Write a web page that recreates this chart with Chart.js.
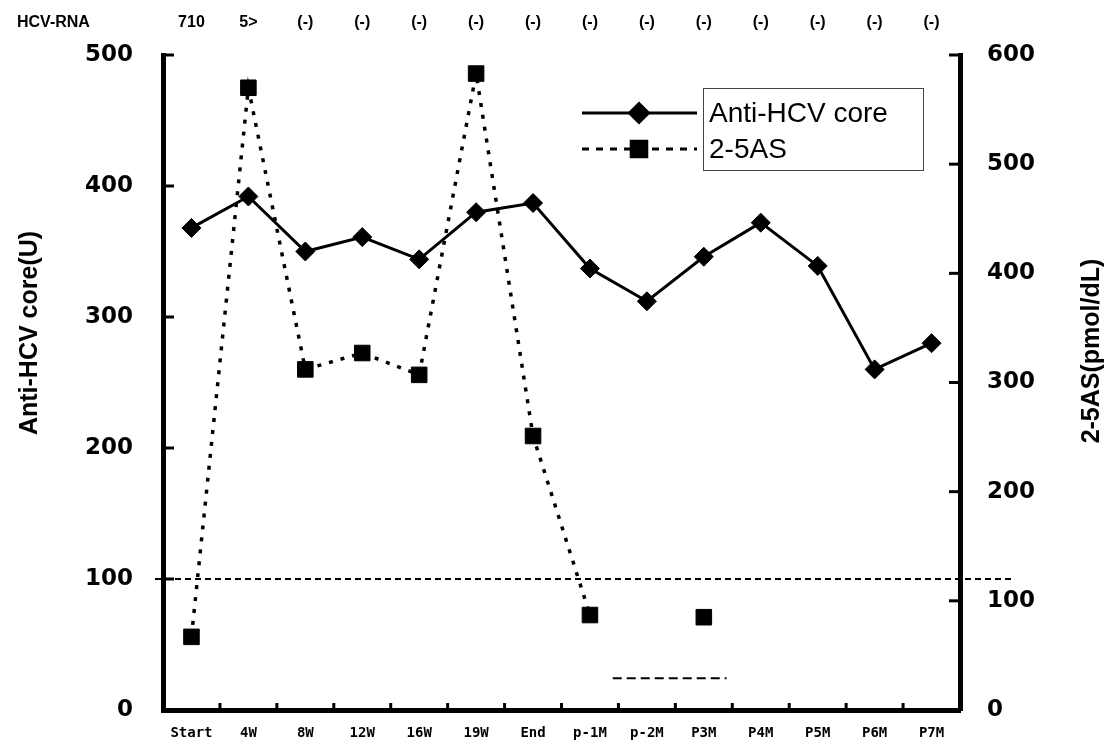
<!DOCTYPE html>
<html>
<head>
<meta charset="utf-8">
<script src="https://cdn.jsdelivr.net/npm/chart.js@4.4.0/dist/chart.umd.min.js"></script>
<style>
  html, body { margin: 0; padding: 0; background: #fff; }
  #wrap { width: 1111px; height: 744px; }
</style>
</head>
<body>
<div id="wrap"><canvas id="chart" width="1111" height="744"></canvas></div>
<script>
// data
const labels = ['Start', '4W', '8W', '12W', '16W', '19W', 'End', 'p-1M', 'p-2M', 'P3M', 'P4M', 'P5M', 'P6M', 'P7M'];
const hcvRna = ['710', '5>', '(-)', '(-)', '(-)', '(-)', '(-)', '(-)', '(-)', '(-)', '(-)', '(-)', '(-)', '(-)'];
const antiHcvCore = [368, 392, 350, 361, 344, 380, 387, 337, 312, 346, 372, 339, 260, 280];
const as25 = [67, 570, 312, 327, 307, 583, 251, 87, null, 85, null, null, null, null];
const cutoff = 100;               // dotted reference line, left axis
const lowMark = { from: 7.4, to: 9.4, value: 29 };   // short dashed bar near the bottom, right axis

// extra drawing: reference line, inner ticks, titles, legend, HCV-RNA row
const decor = {
    id: 'decor',
    beforeDatasetsDraw(chart) {
        const { ctx, chartArea, scales } = chart;
        ctx.save();
        ctx.strokeStyle = '#000';
        ctx.lineWidth = 2;
        ctx.setLineDash([6, 4]);
        const yc = scales.y.getPixelForValue(cutoff);
        ctx.beginPath();
        ctx.moveTo(chartArea.left - 8, yc);
        ctx.lineTo(chartArea.right + 52, yc);
        ctx.stroke();

        ctx.setLineDash([9, 5]);
        const yb = scales.y1.getPixelForValue(lowMark.value);
        ctx.beginPath();
        ctx.moveTo(scales.x.getPixelForValue(lowMark.from), yb);
        ctx.lineTo(scales.x.getPixelForValue(lowMark.to), yb);
        ctx.stroke();
        ctx.restore();
    },
    afterDraw(chart) {
        const { ctx, chartArea, scales } = chart;
        ctx.save();
        ctx.strokeStyle = '#000';
        ctx.fillStyle = '#000';
        ctx.lineWidth = 3;

        // tick marks pointing into the plot
        scales.y.ticks.forEach(t => {
            const y = scales.y.getPixelForValue(t.value);
            ctx.beginPath();
            ctx.moveTo(chartArea.left, y);
            ctx.lineTo(chartArea.left + 11, y);
            ctx.stroke();
        });
        scales.y1.ticks.forEach(t => {
            const y = scales.y1.getPixelForValue(t.value);
            ctx.beginPath();
            ctx.moveTo(chartArea.right, y);
            ctx.lineTo(chartArea.right - 11, y);
            ctx.stroke();
        });
        for (let i = 0; i < labels.length - 1; i++) {
            const x = (scales.x.getPixelForTick(i) + scales.x.getPixelForTick(i + 1)) / 2;
            ctx.beginPath();
            ctx.moveTo(x, chartArea.bottom);
            ctx.lineTo(x, chartArea.bottom - 7);
            ctx.stroke();
        }

        // axis titles, both read bottom to top
        ctx.font = 'bold 25px "Liberation Sans", Arial, sans-serif';
        ctx.textAlign = 'center';
        ctx.textBaseline = 'middle';
        ctx.save();
        ctx.translate(30, 333);
        ctx.rotate(-Math.PI / 2);
        ctx.fillText('Anti-HCV core(U)', 0, 0);
        ctx.restore();
        ctx.save();
        ctx.translate(1092, 351);
        ctx.rotate(-Math.PI / 2);
        ctx.fillText('2-5AS(pmol/dL)', 0, 0);
        ctx.restore();

        // HCV-RNA row
        ctx.font = 'bold 16px "Liberation Sans", Arial, sans-serif';
        ctx.textAlign = 'left';
        ctx.fillText('HCV-RNA', 17, 23);
        ctx.textAlign = 'center';
        hcvRna.forEach((s, i) => ctx.fillText(s, scales.x.getPixelForTick(i), 23));

        // legend
        const ds = chart.data.datasets;
        const rows = [113, 149];
        ds.forEach((d, i) => {
            ctx.save();
            ctx.lineWidth = 3;
            ctx.setLineDash(d.borderDash ? [7, 7] : []);
            ctx.beginPath();
            ctx.moveTo(582, rows[i]);
            ctx.lineTo(697, rows[i]);
            ctx.stroke();
            ctx.restore();
            Chart.helpers.drawPoint(ctx, {
                pointStyle: d.pointStyle, radius: d.pointRadius, borderWidth: 1, rotation: 0
            }, 639, rows[i]);
            ctx.fill();
        });
        ctx.lineWidth = 1;
        ctx.strokeStyle = '#444';
        ctx.strokeRect(703.5, 88.5, 220, 82);
        ctx.font = '28px "Liberation Sans", Arial, sans-serif';
        ctx.textAlign = 'left';
        ds.forEach((d, i) => ctx.fillText(d.label, 709, rows[i] + 1));
        ctx.restore();
    }
};

const tickFont = { family: '"DejaVu Sans", sans-serif', weight: 'bold', size: 23 };
// invisible tick marks only used to push the labels away from the axis
const sideGrid = len => ({ display: true, drawOnChartArea: false, drawTicks: true, tickLength: len, tickColor: 'rgba(0,0,0,0)' });

new Chart(document.getElementById('chart').getContext('2d'), {
    type: 'line',
    data: {
        labels: labels,
        datasets: [{
            label: 'Anti-HCV core',
            data: antiHcvCore,
            yAxisID: 'y',
            borderColor: '#000',
            backgroundColor: '#000',
            borderWidth: 3,
            pointStyle: 'rectRot',
            pointRadius: 9.5,
            pointBorderWidth: 1,
            tension: 0
        }, {
            label: '2-5AS',
            data: as25,
            yAxisID: 'y1',
            borderColor: '#000',
            backgroundColor: '#000',
            borderWidth: 3.5,
            borderDash: [4, 8],
            pointStyle: 'rect',
            pointRadius: 11,
            pointBorderWidth: 1,
            spanGaps: false,
            tension: 0
        }]
    },
    options: {
        responsive: false,
        animation: false,
        layout: { padding: { top: 55 } },
        plugins: { legend: { display: false }, tooltip: { enabled: false } },
        scales: {
            x: {
                offset: true,
                grid: { display: false },
                border: { display: true, color: '#000', width: 5 },
                ticks: {
                    color: '#000',
                    font: { family: '"DejaVu Sans Mono", monospace', weight: 'bold', size: 14 },
                    padding: 7,
                    maxRotation: 0,
                    autoSkip: false
                },
                afterFit(scale) { scale.height = 34; }
            },
            y: {
                position: 'left',
                min: 0,
                max: 500,
                grid: sideGrid(30),
                border: { display: true, color: '#000', width: 5 },
                ticks: { stepSize: 100, color: '#000', font: tickFont, padding: 0 },
                afterFit(scale) { scale.width = 163; }
            },
            y1: {
                position: 'right',
                min: 0,
                max: 600,
                grid: sideGrid(27),
                border: { display: true, color: '#000', width: 5 },
                ticks: { stepSize: 100, color: '#000', font: tickFont, padding: 0 },
                afterFit(scale) { scale.width = 151; }
            }
        }
    },
    plugins: [decor]
});
</script>
</body>
</html>
